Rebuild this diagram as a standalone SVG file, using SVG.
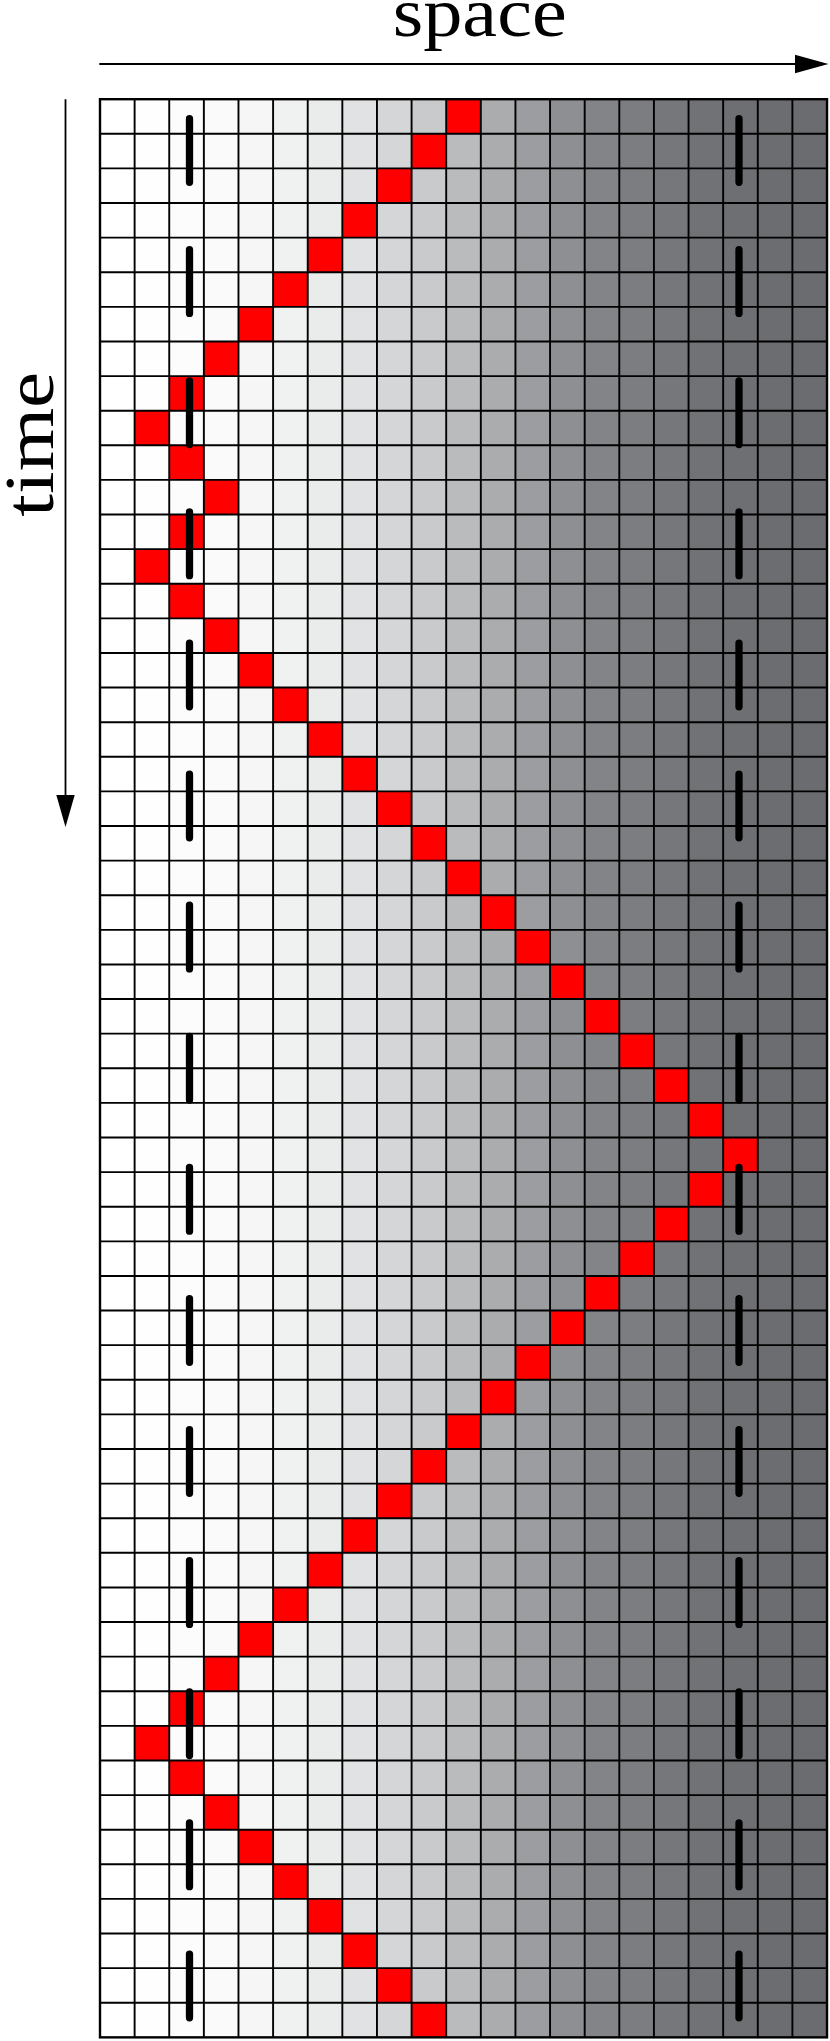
<svg xmlns="http://www.w3.org/2000/svg" width="830" height="2041" viewBox="0 0 830 2041">
<style>
.lbl{font-family:"Liberation Serif","Times New Roman",serif;font-size:70px;fill:#000}
.ax{stroke:#000;stroke-width:1.8;fill:none}
.col{stroke:none}
.red{fill:#ff0000;stroke:none}
.grid{stroke:#000;stroke-width:1.9;fill:none}
.dash{stroke:#000;stroke-width:7.3;stroke-linecap:round;stroke-dasharray:63.7 67.4;fill:none}
</style>
<rect x="0" y="0" width="830" height="2041" fill="#ffffff"/>
<g id="label-space"><text class="lbl" x="392.7" y="36" textLength="174" lengthAdjust="spacingAndGlyphs">space</text></g>
<g id="label-time"><text class="lbl" transform="translate(53.3,516.7) rotate(-90)" x="0" y="0" textLength="145" lengthAdjust="spacingAndGlyphs">time</text></g>
<g id="axes">
<line class="ax" x1="99.3" y1="64" x2="797" y2="64"/>
<polygon points="795,54.8 828.5,64 795,73.2" fill="#000"/>
<line class="ax" x1="65.5" y1="99.3" x2="65.5" y2="797"/>
<polygon points="56.3,795 65.5,827 74.7,795" fill="#000"/>
</g>
<g id="columns">
<rect class="col" x="100" y="99.2" width="34.62" height="1938.16" fill="#ffffff"/>
<rect class="col" x="134.62" y="99.2" width="34.62" height="1938.16" fill="#fefefe"/>
<rect class="col" x="169.24" y="99.2" width="34.62" height="1938.16" fill="#fcfcfc"/>
<rect class="col" x="203.86" y="99.2" width="34.62" height="1938.16" fill="#fafafa"/>
<rect class="col" x="238.48" y="99.2" width="34.62" height="1938.16" fill="#f6f6f6"/>
<rect class="col" x="273.1" y="99.2" width="34.62" height="1938.16" fill="#f0f1f1"/>
<rect class="col" x="307.72" y="99.2" width="34.62" height="1938.16" fill="#eaebeb"/>
<rect class="col" x="342.34" y="99.2" width="34.62" height="1938.16" fill="#e1e2e3"/>
<rect class="col" x="376.96" y="99.2" width="34.62" height="1938.16" fill="#d5d6d8"/>
<rect class="col" x="411.58" y="99.2" width="34.62" height="1938.16" fill="#c9cacc"/>
<rect class="col" x="446.2" y="99.2" width="34.62" height="1938.16" fill="#babbbd"/>
<rect class="col" x="480.82" y="99.2" width="34.62" height="1938.16" fill="#abacae"/>
<rect class="col" x="515.44" y="99.2" width="34.62" height="1938.16" fill="#9c9da0"/>
<rect class="col" x="550.06" y="99.2" width="34.62" height="1938.16" fill="#8e8f92"/>
<rect class="col" x="584.68" y="99.2" width="34.62" height="1938.16" fill="#838488"/>
<rect class="col" x="619.3" y="99.2" width="34.62" height="1938.16" fill="#7c7d81"/>
<rect class="col" x="653.92" y="99.2" width="34.62" height="1938.16" fill="#76777b"/>
<rect class="col" x="688.54" y="99.2" width="34.62" height="1938.16" fill="#717276"/>
<rect class="col" x="723.16" y="99.2" width="34.62" height="1938.16" fill="#6e6f73"/>
<rect class="col" x="757.78" y="99.2" width="34.62" height="1938.16" fill="#6c6d71"/>
<rect class="col" x="792.4" y="99.2" width="34.62" height="1938.16" fill="#6b6c70"/>
</g>
<g id="trajectory">
<rect class="red" x="446.2" y="99.2" width="34.62" height="34.61"/>
<rect class="red" x="411.58" y="133.81" width="34.62" height="34.61"/>
<rect class="red" x="376.96" y="168.42" width="34.62" height="34.61"/>
<rect class="red" x="342.34" y="203.03" width="34.62" height="34.61"/>
<rect class="red" x="307.72" y="237.64" width="34.62" height="34.61"/>
<rect class="red" x="273.1" y="272.25" width="34.62" height="34.61"/>
<rect class="red" x="238.48" y="306.86" width="34.62" height="34.61"/>
<rect class="red" x="203.86" y="341.47" width="34.62" height="34.61"/>
<rect class="red" x="169.24" y="376.08" width="34.62" height="34.61"/>
<rect class="red" x="134.62" y="410.69" width="34.62" height="34.61"/>
<rect class="red" x="169.24" y="445.3" width="34.62" height="34.61"/>
<rect class="red" x="203.86" y="479.91" width="34.62" height="34.61"/>
<rect class="red" x="169.24" y="514.52" width="34.62" height="34.61"/>
<rect class="red" x="134.62" y="549.13" width="34.62" height="34.61"/>
<rect class="red" x="169.24" y="583.74" width="34.62" height="34.61"/>
<rect class="red" x="203.86" y="618.35" width="34.62" height="34.61"/>
<rect class="red" x="238.48" y="652.96" width="34.62" height="34.61"/>
<rect class="red" x="273.1" y="687.57" width="34.62" height="34.61"/>
<rect class="red" x="307.72" y="722.18" width="34.62" height="34.61"/>
<rect class="red" x="342.34" y="756.79" width="34.62" height="34.61"/>
<rect class="red" x="376.96" y="791.4" width="34.62" height="34.61"/>
<rect class="red" x="411.58" y="826.01" width="34.62" height="34.61"/>
<rect class="red" x="446.2" y="860.62" width="34.62" height="34.61"/>
<rect class="red" x="480.82" y="895.23" width="34.62" height="34.61"/>
<rect class="red" x="515.44" y="929.84" width="34.62" height="34.61"/>
<rect class="red" x="550.06" y="964.45" width="34.62" height="34.61"/>
<rect class="red" x="584.68" y="999.06" width="34.62" height="34.61"/>
<rect class="red" x="619.3" y="1033.67" width="34.62" height="34.61"/>
<rect class="red" x="653.92" y="1068.28" width="34.62" height="34.61"/>
<rect class="red" x="688.54" y="1102.89" width="34.62" height="34.61"/>
<rect class="red" x="723.16" y="1137.5" width="34.62" height="34.61"/>
<rect class="red" x="688.54" y="1172.11" width="34.62" height="34.61"/>
<rect class="red" x="653.92" y="1206.72" width="34.62" height="34.61"/>
<rect class="red" x="619.3" y="1241.33" width="34.62" height="34.61"/>
<rect class="red" x="584.68" y="1275.94" width="34.62" height="34.61"/>
<rect class="red" x="550.06" y="1310.55" width="34.62" height="34.61"/>
<rect class="red" x="515.44" y="1345.16" width="34.62" height="34.61"/>
<rect class="red" x="480.82" y="1379.77" width="34.62" height="34.61"/>
<rect class="red" x="446.2" y="1414.38" width="34.62" height="34.61"/>
<rect class="red" x="411.58" y="1448.99" width="34.62" height="34.61"/>
<rect class="red" x="376.96" y="1483.6" width="34.62" height="34.61"/>
<rect class="red" x="342.34" y="1518.21" width="34.62" height="34.61"/>
<rect class="red" x="307.72" y="1552.82" width="34.62" height="34.61"/>
<rect class="red" x="273.1" y="1587.43" width="34.62" height="34.61"/>
<rect class="red" x="238.48" y="1622.04" width="34.62" height="34.61"/>
<rect class="red" x="203.86" y="1656.65" width="34.62" height="34.61"/>
<rect class="red" x="169.24" y="1691.26" width="34.62" height="34.61"/>
<rect class="red" x="134.62" y="1725.87" width="34.62" height="34.61"/>
<rect class="red" x="169.24" y="1760.48" width="34.62" height="34.61"/>
<rect class="red" x="203.86" y="1795.09" width="34.62" height="34.61"/>
<rect class="red" x="238.48" y="1829.7" width="34.62" height="34.61"/>
<rect class="red" x="273.1" y="1864.31" width="34.62" height="34.61"/>
<rect class="red" x="307.72" y="1898.92" width="34.62" height="34.61"/>
<rect class="red" x="342.34" y="1933.53" width="34.62" height="34.61"/>
<rect class="red" x="376.96" y="1968.14" width="34.62" height="34.61"/>
<rect class="red" x="411.58" y="2002.75" width="34.62" height="34.61"/>
</g>
<g id="grid-lines">
<path class="grid" d="M134.62,99.2V2037.36M169.24,99.2V2037.36M203.86,99.2V2037.36M238.48,99.2V2037.36M273.1,99.2V2037.36M307.72,99.2V2037.36M342.34,99.2V2037.36M376.96,99.2V2037.36M411.58,99.2V2037.36M446.2,99.2V2037.36M480.82,99.2V2037.36M515.44,99.2V2037.36M550.06,99.2V2037.36M584.68,99.2V2037.36M619.3,99.2V2037.36M653.92,99.2V2037.36M688.54,99.2V2037.36M723.16,99.2V2037.36M757.78,99.2V2037.36M792.4,99.2V2037.36"/>
<path class="grid" d="M100,133.81H827.02M100,168.42H827.02M100,203.03H827.02M100,237.64H827.02M100,272.25H827.02M100,306.86H827.02M100,341.47H827.02M100,376.08H827.02M100,410.69H827.02M100,445.3H827.02M100,479.91H827.02M100,514.52H827.02M100,549.13H827.02M100,583.74H827.02M100,618.35H827.02M100,652.96H827.02M100,687.57H827.02M100,722.18H827.02M100,756.79H827.02M100,791.4H827.02M100,826.01H827.02M100,860.62H827.02M100,895.23H827.02M100,929.84H827.02M100,964.45H827.02M100,999.06H827.02M100,1033.67H827.02M100,1068.28H827.02M100,1102.89H827.02M100,1137.5H827.02M100,1172.11H827.02M100,1206.72H827.02M100,1241.33H827.02M100,1275.94H827.02M100,1310.55H827.02M100,1345.16H827.02M100,1379.77H827.02M100,1414.38H827.02M100,1448.99H827.02M100,1483.6H827.02M100,1518.21H827.02M100,1552.82H827.02M100,1587.43H827.02M100,1622.04H827.02M100,1656.65H827.02M100,1691.26H827.02M100,1725.87H827.02M100,1760.48H827.02M100,1795.09H827.02M100,1829.7H827.02M100,1864.31H827.02M100,1898.92H827.02M100,1933.53H827.02M100,1968.14H827.02M100,2002.75H827.02"/>
<rect x="100" y="99.2" width="727.02" height="1938.16" fill="none" stroke="#000" stroke-width="2.4"/>
</g>
<g id="dashes">
<line class="dash" x1="189.5" y1="118.65" x2="189.5" y2="2030"/>
<line class="dash" x1="739" y1="118.65" x2="739" y2="2030"/>
</g>
</svg>
